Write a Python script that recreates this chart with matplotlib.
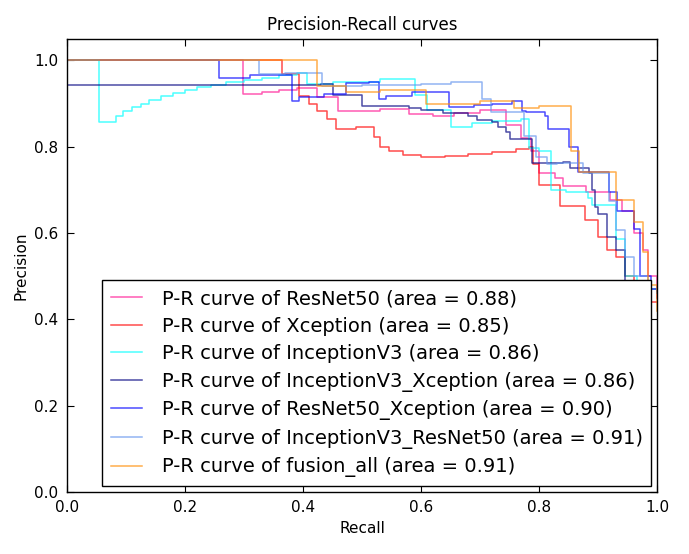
import matplotlib
matplotlib.use("Agg")
import matplotlib.pyplot as plt

# (recall, precision) vertices, drawn as post-steps
resnet50_r = [0, 0.298, 0.33, 0.36, 0.39, 0.424, 0.46, 0.53, 0.58, 0.62, 0.655, 0.70, 0.744, 0.77, 0.786,
              0.80, 0.826, 0.84, 0.88, 0.92, 0.94, 0.96, 0.975, 0.985, 1.0]
resnet50_p = [1.0, 0.921, 0.926, 0.932, 0.937, 0.915, 0.882, 0.888, 0.875, 0.87, 0.878, 0.884, 0.85, 0.82, 0.79,
              0.74, 0.728, 0.71, 0.694, 0.677, 0.65, 0.60, 0.56, 0.50, 0.45]

xception_r = [0, 0.364, 0.393, 0.41, 0.424, 0.44, 0.456, 0.49, 0.52, 0.53, 0.545, 0.57, 0.60, 0.64, 0.68,
              0.72, 0.76, 0.783, 0.79, 0.80, 0.836, 0.877, 0.90, 0.915, 0.93, 0.945, 0.96, 0.985, 1.0]
xception_p = [1.0, 0.968, 0.918, 0.90, 0.882, 0.865, 0.84, 0.845, 0.822, 0.80, 0.79, 0.78, 0.775, 0.778, 0.783,
              0.788, 0.795, 0.80, 0.76, 0.712, 0.662, 0.631, 0.59, 0.561, 0.545, 0.50, 0.47, 0.44, 0.44]

inception_r = [0, 0.054, 0.083, 0.095, 0.11, 0.125, 0.14, 0.16, 0.18, 0.20, 0.22, 0.245, 0.27, 0.30, 0.33,
               0.36, 0.39, 0.407, 0.45, 0.53, 0.59, 0.61, 0.651, 0.686, 0.72, 0.769, 0.782, 0.80, 0.82,
               0.845, 0.883, 0.89, 0.93, 0.945, 0.965, 1.0]
inception_p = [1.0, 0.858, 0.872, 0.882, 0.892, 0.90, 0.908, 0.917, 0.925, 0.932, 0.938, 0.944, 0.95, 0.955, 0.96,
               0.965, 0.97, 0.945, 0.95, 0.956, 0.92, 0.886, 0.845, 0.856, 0.86, 0.863, 0.798, 0.79, 0.70,
               0.695, 0.68, 0.665, 0.585, 0.50, 0.47, 0.46]

inc_xcp_r = [0, 0.43, 0.45, 0.50, 0.58, 0.60, 0.637, 0.68, 0.695, 0.72, 0.73, 0.743, 0.75, 0.783, 0.787,
             0.84, 0.852, 0.885, 0.89, 0.895, 0.90, 0.915, 0.93, 0.945, 0.97, 1.0]
inc_xcp_p = [0.942, 0.945, 0.92, 0.895, 0.89, 0.886, 0.878, 0.87, 0.862, 0.858, 0.845, 0.835, 0.818, 0.818, 0.762,
             0.765, 0.75, 0.74, 0.70, 0.66, 0.645, 0.59, 0.56, 0.48, 0.47, 0.465]

res_xcp_r = [0, 0.258, 0.31, 0.381, 0.393, 0.435, 0.473, 0.512, 0.529, 0.54, 0.585, 0.648, 0.69, 0.72, 0.754,
             0.771, 0.778, 0.81, 0.815, 0.851, 0.865, 0.918, 0.932, 0.96, 0.97, 0.99, 1.0]
res_xcp_p = [1.0, 0.96, 0.967, 0.905, 0.916, 0.922, 0.948, 0.95, 0.91, 0.917, 0.926, 0.893, 0.896, 0.90, 0.905,
             0.882, 0.88, 0.87, 0.84, 0.80, 0.742, 0.696, 0.65, 0.61, 0.50, 0.47, 0.46]

inc_res_r = [0, 0.325, 0.37, 0.432, 0.50, 0.60, 0.65, 0.703, 0.718, 0.775, 0.795, 0.813, 0.83, 0.86, 0.875,
             0.918, 0.93, 0.945, 0.96, 0.985, 1.0]
inc_res_p = [1.0, 0.968, 0.971, 0.94, 0.942, 0.946, 0.95, 0.91, 0.88, 0.824, 0.775, 0.759, 0.762, 0.763, 0.74,
             0.673, 0.608, 0.545, 0.50, 0.47, 0.46]

fusion_r = [0, 0.424, 0.473, 0.53, 0.608, 0.70, 0.758, 0.80, 0.854, 0.868, 0.93, 0.96, 0.975, 0.985, 1.0]
fusion_p = [1.0, 0.94, 0.926, 0.932, 0.90, 0.905, 0.89, 0.895, 0.789, 0.742, 0.677, 0.626, 0.557, 0.48, 0.42]

names = ["ResNet50", "Xception", "InceptionV3", "InceptionV3_Xception",
         "ResNet50_Xception", "InceptionV3_ResNet50", "fusion_all"]
areas = [0.88, 0.85, 0.86, 0.86, 0.90, 0.91, 0.91]
colors = ["deeppink", "red", "aqua", "navy", "blue", "cornflowerblue", "darkorange"]

curves = [(resnet50_r, resnet50_p), (xception_r, xception_p), (inception_r, inception_p),
          (inc_xcp_r, inc_xcp_p), (res_xcp_r, res_xcp_p), (inc_res_r, inc_res_p), (fusion_r, fusion_p)]

fig = plt.figure(figsize=(6.89, 5.54), dpi=100)
ax = fig.add_axes([0.097, 0.112, 0.857, 0.818])

for (r, p), name, area, c in zip(curves, names, areas, colors):
    ax.step(r, p, where='post', color=c, lw=1.1, alpha=0.7,
            label='P-R curve of {0} (area = {1:0.2f})'.format(name, area))

ax.set_xlim(0.0, 1.0)
ax.set_ylim(0.0, 1.05)
ax.set_xticks([0.0, 0.2, 0.4, 0.6, 0.8, 1.0])
ax.set_yticks([0.0, 0.2, 0.4, 0.6, 0.8, 1.0])
ax.tick_params(direction='in', top=True, right=True, labelsize=11, length=5, pad=6)
ax.set_xlabel('Recall', fontsize=11)
ax.set_ylabel('Precision', fontsize=11)
ax.set_title('Precision-Recall curves', fontsize=12)
for s in ax.spines.values():
    s.set_linewidth(1.0)

leg = ax.legend(loc='lower right', fontsize=14, fancybox=False, framealpha=1,
                edgecolor='black', labelspacing=0.44, handlelength=1.6, handletextpad=1.0,
                borderpad=0.45, borderaxespad=0.3)
leg.get_frame().set_linewidth(1.0)

fig.savefig('out.png', dpi=100)
